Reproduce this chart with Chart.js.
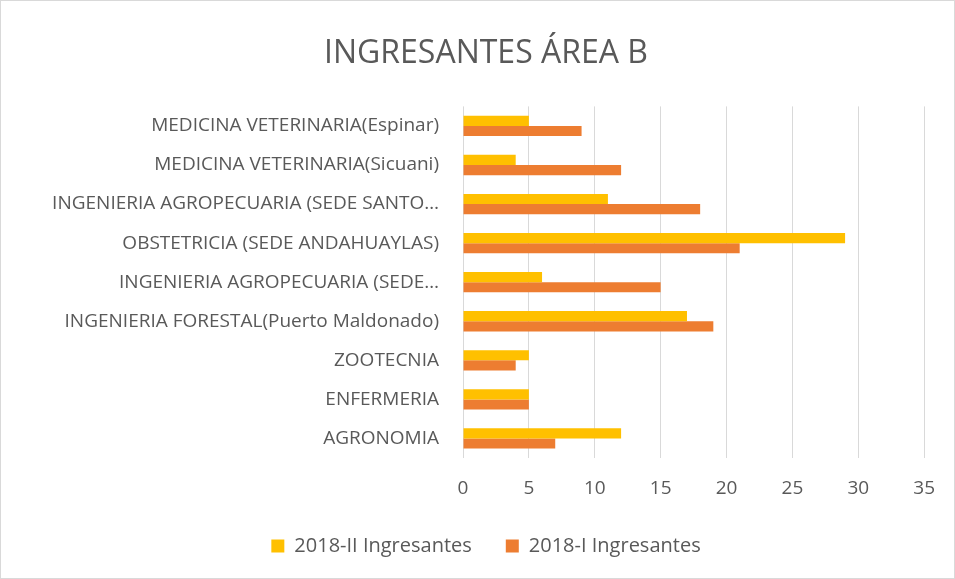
<!DOCTYPE html>
<html>
<head>
<meta charset="utf-8">
<script src="https://cdn.jsdelivr.net/npm/chart.js@4"></script>
<style>
  html, body { margin: 0; padding: 0; background: #fff; }
  #wrap { position: relative; width: 955px; height: 579px; box-sizing: border-box; border: 1px solid #d9d9d9; }
</style>
</head>
<body>
<div id="wrap"><canvas id="chart"></canvas></div>
<script>
const categories = [
  'MEDICINA VETERINARIA(Espinar)',
  'MEDICINA VETERINARIA(Sicuani)',
  'INGENIERIA AGROPECUARIA (SEDE SANTO…',
  'OBSTETRICIA (SEDE ANDAHUAYLAS)',
  'INGENIERIA AGROPECUARIA (SEDE…',
  'INGENIERIA FORESTAL(Puerto Maldonado)',
  'ZOOTECNIA',
  'ENFERMERIA',
  'AGRONOMIA'
];
const ingresantes2018II = [5, 4, 11, 29, 6, 17, 5, 5, 12];
const ingresantes2018I = [9, 12, 18, 21, 15, 19, 4, 5, 7];

const textColor = '#595959';
const fontFamily = "'Open Sans', 'Noto Sans', sans-serif";

new Chart(document.getElementById('chart'), {
  type: 'bar',
  data: {
    labels: categories,
    datasets: [
      {
        label: '2018-II Ingresantes',
        data: ingresantes2018II,
        backgroundColor: '#FFC000',
        categoryPercentage: 0.52,
        barPercentage: 1,
      },
      {
        label: '2018-I Ingresantes',
        data: ingresantes2018I,
        backgroundColor: '#ED7D31',
        categoryPercentage: 0.52,
        barPercentage: 1,
      },
    ],
  },
  options: {
    indexAxis: 'y',
    responsive: true,
    maintainAspectRatio: false,
    animation: false,
    layout: { padding: { left: 46, right: 29, top: 18, bottom: 12 } },
    scales: {
      x: {
        min: 0,
        max: 35,
        ticks: { stepSize: 5, color: textColor, font: { family: fontFamily, size: 19 }, padding: 19 },
        grid: { color: '#d9d9d9', drawTicks: false },
        border: { display: false },
        afterFit: (axis) => { axis.height = 44; },
      },
      y: {
        ticks: { color: textColor, font: { family: fontFamily, size: 19 }, padding: 24, autoSkip: false },
        grid: { display: false, drawTicks: false },
        border: { display: false },
        afterFit: (axis) => { axis.width = 416; },
      },
    },
    plugins: {
      title: {
        display: true,
        text: 'INGRESANTES ÁREA B',
        color: textColor,
        font: { family: fontFamily, size: 32, weight: 'normal' },
        padding: { top: 16, bottom: 33 },
      },
      legend: {
        position: 'bottom',
        labels: {
          color: textColor,
          font: { family: fontFamily, size: 20 },
          boxWidth: 13,
          boxHeight: 13,
          padding: 34,
        },
      },
      tooltip: { enabled: false },
    },
  },
});
</script>
</body>
</html>
